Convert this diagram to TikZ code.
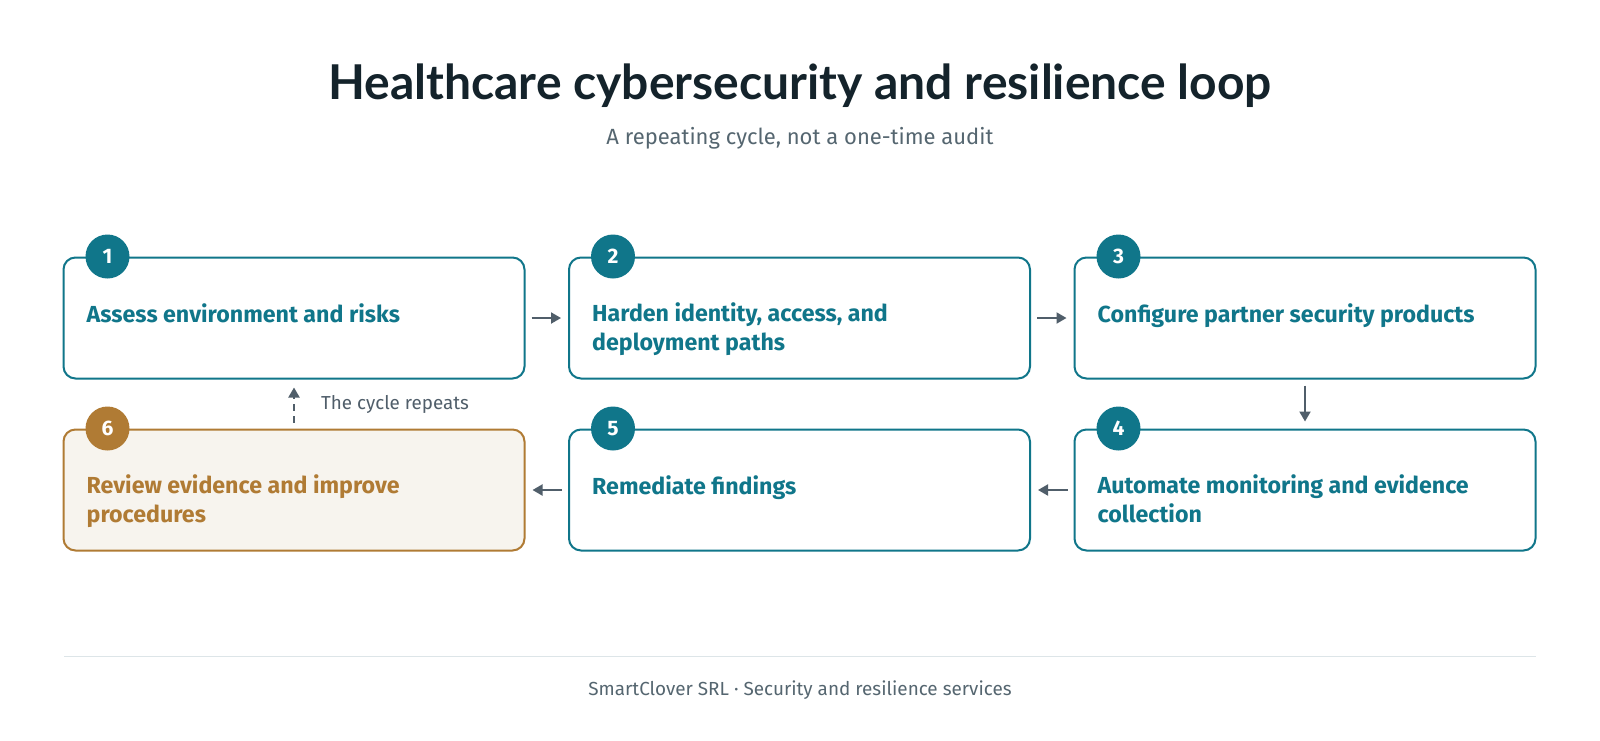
\documentclass[tikz,border=0pt]{standalone}
\usepackage{fontspec}
\setmainfont{Fira Sans}
\newfontfamily\titlefont{Lato}
\usepackage{tikz}
\usetikzlibrary{positioning, calc, arrows.meta}
\definecolor{lpTeal}{RGB}{16, 118, 138}
\definecolor{lpGold}{RGB}{176, 123, 52}
\definecolor{lpCream}{RGB}{247, 244, 238}
\definecolor{lpInk}{RGB}{20, 35, 43}
\definecolor{lpGray}{RGB}{80, 94, 106}
\definecolor{lpSub}{RGB}{85, 102, 112}
\definecolor{lpRule}{RGB}{221, 229, 232}
\tikzset{
    heading/.style={
        font=\titlefont\bfseries\fontsize{48}{54}\selectfont,
        text=lpInk,
        inner sep=0pt
    },
    subheading/.style={
        font=\fontsize{22}{26}\selectfont,
        text=lpSub,
        inner sep=0pt
    },
    stepbox/.style={
        rectangle,
        rounded corners=12pt,
        draw=lpTeal,
        line width=2pt,
        fill=white,
        minimum width=461pt,
        minimum height=121pt
    },
    stepnum/.style={
        circle,
        fill=lpTeal,
        text=white,
        font=\bfseries\fontsize{21}{22}\selectfont,
        minimum size=44pt,
        inner sep=0pt
    },
    steptext/.style={
        font=\bfseries\fontsize{23.2}{28.5}\selectfont,
        text=lpTeal,
        align=left,
        inner sep=0pt,
        anchor=north west,
        execute at begin node=\strut
    },
    reviewbox/.style={
        stepbox,
        draw=lpGold,
        fill=lpCream
    },
    reviewnum/.style={
        stepnum,
        fill=lpGold
    },
    reviewtext/.style={
        steptext,
        text=lpGold
    },
    flow/.style={
        -{Triangle[length=10pt, width=11pt]},
        line width=2pt,
        color=lpGray,
        shorten <=6pt,
        shorten >=7pt
    },
    loopflow/.style={
        flow,
        dash pattern=on 7pt off 5pt
    },
    note/.style={
        font=\fontsize{18.8}{22}\selectfont,
        text=lpGray,
        inner sep=0pt
    }
}

\begin{document}
\begin{tikzpicture}[x=1pt, y=-1pt]
    \useasboundingbox[fill=white] (0,0) rectangle (1600,740);

    % Heading
    \node[heading, anchor=base] (title) at (800,99) {Healthcare cybersecurity and resilience loop};
    \node[subheading, anchor=base] (subtitle) at (800,144) {A repeating cycle, not a one-time audit};

    % Step 1
    \node[stepbox] (s1) at (294,318) {};
    \node[steptext] (t1) at ($(s1.north west)+(24,46)$) {Assess environment and risks};
    \node[stepnum] (n1) at ($(s1.north west)+(45,0)$) {1};

    % Step 2
    \node[stepbox] (s2) at (799.5,318) {};
    \node[steptext] (t2) at ($(s2.north west)+(24,46)$) {Harden identity, access, and\\deployment paths};
    \node[stepnum] (n2) at ($(s2.north west)+(45,0)$) {2};

    % Step 3
    \node[stepbox] (s3) at (1305,318) {};
    \node[steptext] (t3) at ($(s3.north west)+(24,46)$) {Configure partner security products};
    \node[stepnum] (n3) at ($(s3.north west)+(45,0)$) {3};

    % Step 4
    \node[stepbox] (s4) at (1305,490) {};
    \node[steptext] (t4) at ($(s4.north west)+(24,46)$) {Automate monitoring and evidence\\collection};
    \node[stepnum] (n4) at ($(s4.north west)+(45,0)$) {4};

    % Step 5
    \node[stepbox] (s5) at (799.5,490) {};
    \node[steptext] (t5) at ($(s5.north west)+(24,46)$) {Remediate findings};
    \node[stepnum] (n5) at ($(s5.north west)+(45,0)$) {5};

    % Step 6 (review)
    \node[reviewbox] (s6) at (294,490) {};
    \node[reviewtext] (t6) at ($(s6.north west)+(24,46)$) {Review evidence and improve\\procedures};
    \node[reviewnum] (n6) at ($(s6.north west)+(45,0)$) {6};

    % Flow between steps
    \draw[flow] (s1.east) -- (s2.west);
    \draw[flow] (s2.east) -- (s3.west);
    \draw[flow] (s3.south) -- (s4.north);
    \draw[flow] (s4.west) -- (s5.east);
    \draw[flow] (s5.west) -- (s6.east);

    % Back to the start
    \draw[loopflow, shorten >=8pt] (s6.north) -- (s1.south);
    \node[note, anchor=west] (repeat) at ($(s1.south)!0.5!(s6.north)+(27,0)$) {The cycle repeats};

    % Footer
    \draw[lpRule, line width=1pt] (64,656) -- (1536,656);
    \node[subheading, font=\fontsize{18.9}{22}\selectfont, anchor=base] (footer) at (800,695) {SmartClover SRL · Security and resilience services};

\end{tikzpicture}
\end{document}
